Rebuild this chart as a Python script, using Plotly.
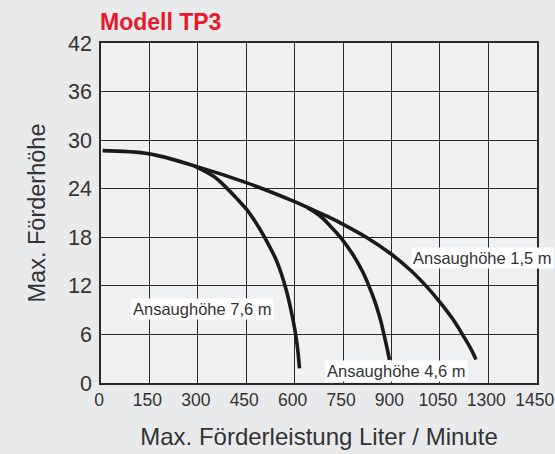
import plotly.graph_objects as go

# Data
x_ticks = [0, 150, 300, 450, 600, 750, 900, 1050, 1200, 1350]
x_tick_labels = ["0", "150", "300", "450", "600", "750", "900", "1050", "1300", "1450"]
y_ticks = [0, 6, 12, 18, 24, 30, 36, 42]

# Ansaughöhe 1,5 m (main curve)
x_15 = [5, 150, 300, 450, 600, 650, 700, 750, 822, 900, 960, 1007, 1050, 1090, 1126, 1145, 1162]
y_15 = [28.7, 28.3, 26.7, 24.75, 22.4, 21.5, 20.6, 19.6, 18.0, 15.9, 13.9, 12.0, 10.0, 7.9, 5.6, 4.3, 2.9]

# Ansaughöhe 4,6 m
x_46 = [640, 680, 708, 744, 780, 810, 827, 850, 866, 878, 887, 894]
y_46 = [21.65, 20.6, 19.5, 17.9, 15.9, 13.8, 12.3, 9.9, 7.8, 5.8, 4.2, 2.85]

# Ansaughöhe 7,6 m
x_76 = [290, 350, 389, 425, 450, 480, 507, 545, 574, 595, 605, 611, 615]
y_76 = [26.8, 25.5, 24.1, 22.6, 21.5, 19.8, 18.0, 15.0, 11.5, 7.8, 5.5, 3.6, 1.8]

labels = ["Ansaughöhe 1,5 m", "Ansaughöhe 4,6 m", "Ansaughöhe 7,6 m"]
label_x = [(554 - 101) / 436, (396 - 101) / 436, (202 - 101) / 436]
label_y = [15.5, 1.5, 9.1]
label_anchor = ["right", "center", "center"]

line_color = "#1b1a1a"
text_color = "#333333"
font_main = "Liberation Sans, Arial, sans-serif"

fig = go.Figure()
for xs, ys in [(x_15, y_15), (x_46, y_46), (x_76, y_76)]:
    fig.add_trace(go.Scatter(x=xs, y=ys, mode="lines",
                             line=dict(color=line_color, width=3.6, shape="spline", smoothing=1.0),
                             hoverinfo="skip", showlegend=False))

for t, lx, ly, anc in zip(labels, label_x, label_y, label_anchor):
    fig.add_annotation(x=lx, y=ly, xref="paper", yref="y", text=t, showarrow=False,
                       xanchor=anc,
                       font=dict(family=font_main, size=16.5, color=text_color),
                       bgcolor="white", borderpad=1)

fig.add_annotation(x=-0.006, y=1 + (43 - 22) / 340, xref="paper", yref="paper",
                   text="<b>Modell TP3</b>",
                   showarrow=False, xanchor="left", yanchor="middle",
                   font=dict(family=font_main, size=23, color="#e8192c"))

fig.update_xaxes(range=[0, 1351], tickvals=x_ticks, ticktext=x_tick_labels, tickangle=0,
                 automargin=False, ticklabeloverflow="allow", ticklabelshift=-2,
                 showgrid=True, gridcolor="#2b2b2b", gridwidth=1.3,
                 showline=True, linecolor="#2b2b2b", linewidth=1.6, mirror=True,
                 zeroline=False, ticks="",
                 tickfont=dict(family=font_main, size=17.5, color=text_color),
                 title=dict(text="Max. Förderleistung Liter / Minute", standoff=19,
                            font=dict(family=font_main, size=24, color=text_color)))
fig.update_yaxes(range=[0, 42], tickvals=y_ticks, automargin=False,
                 showgrid=True, gridcolor="#2b2b2b", gridwidth=1.3,
                 showline=True, linecolor="#2b2b2b", linewidth=1.6, mirror=True,
                 zeroline=False, ticks="", ticklabelstandoff=3,
                 tickfont=dict(family=font_main, size=21.5, color=text_color),
                 title=dict(text="Max. Förderhöhe", standoff=16,
                            font=dict(family=font_main, size=23.5, color=text_color)))

fig.update_layout(width=555, height=454,
                  margin=dict(l=101, r=18, t=43, b=71),
                  paper_bgcolor="#e8eaec", plot_bgcolor="#eff1f2")

fig.write_html("out.html", config={"displayModeBar": False},
               post_script="document.body.style.margin='0px';")
